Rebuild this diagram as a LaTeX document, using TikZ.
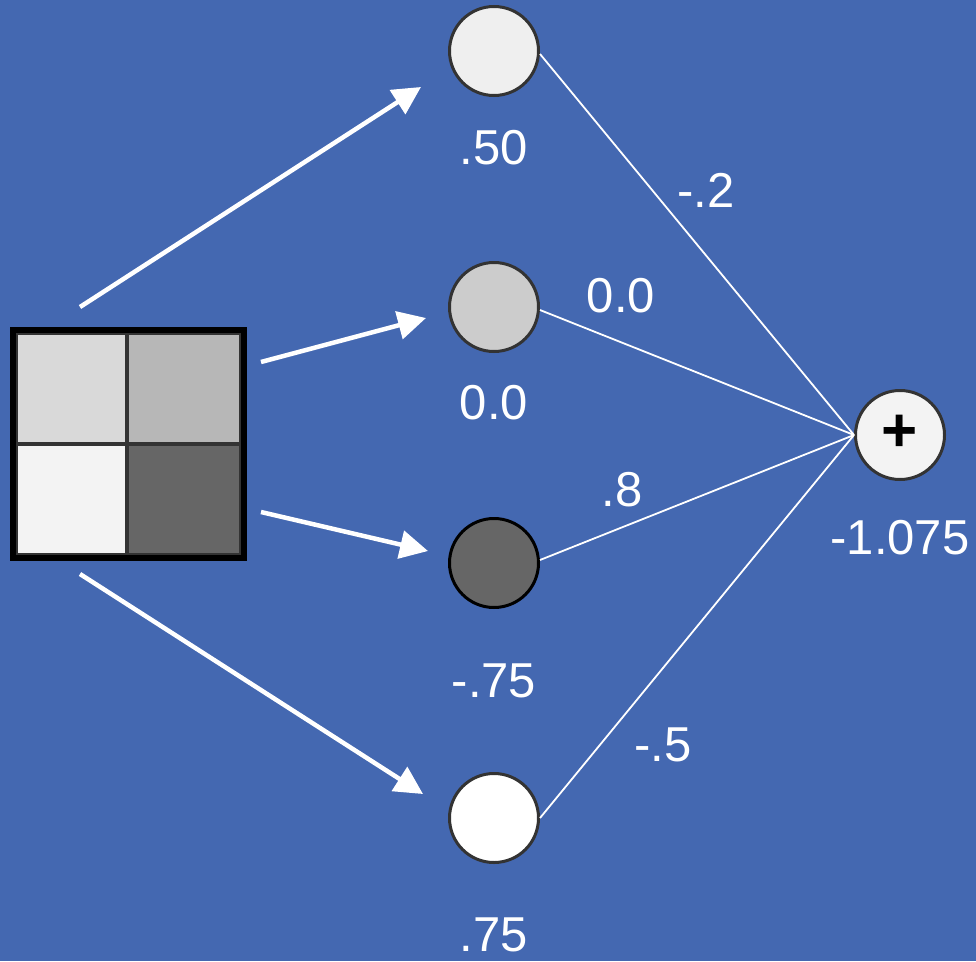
\documentclass[tikz,border=0pt]{standalone}
\usepackage{fontspec}
\setmainfont{Liberation Sans}
\usetikzlibrary{arrows.meta}
\definecolor{bg}{RGB}{68,104,177}
\definecolor{rim}{RGB}{51,51,51}
\begin{document}
\begin{tikzpicture}[x=1pt,y=-1pt,
  neuron/.style={circle,draw=rim,line width=3pt,minimum size=89pt,inner sep=0pt},
  lbl/.style={text=white,font=\fontsize{49}{58}\selectfont,inner sep=0pt},
  bigarrow/.style={draw=white,line width=4.5pt,-{Triangle[length=28pt,width=28pt]}},
  thin/.style={draw=white,line width=1.8pt},
  cell/.style={draw=rim,line width=1.5pt}
]
\fill[bg] (0,0) rectangle (976,961);
\useasboundingbox (0,0) rectangle (976,961);
% grid
\fill[black] (10,327) rectangle (247,561);
\filldraw[cell,fill={rgb,255:red,217;green,217;blue,217}] (17,334) rectangle (126,443);
\filldraw[cell,fill={rgb,255:red,183;green,183;blue,183}] (128,334) rectangle (240,443);
\filldraw[cell,fill={rgb,255:red,243;green,243;blue,243}] (17,445) rectangle (126,554);
\filldraw[cell,fill={rgb,255:red,102;green,102;blue,102}] (128,445) rectangle (240,554);
\node[inner sep=0pt,minimum size=0pt] (grid) at (128,444) {};
% neurons
\node[neuron,fill={rgb,255:red,239;green,239;blue,239}] (n1) at (494,51) {};
\node[neuron,fill={rgb,255:red,204;green,204;blue,204}] (n2) at (494,307) {};
\node[neuron,draw=black,fill={rgb,255:red,102;green,102;blue,102}] (n3) at (494,563) {};
\node[neuron,fill=white] (n4) at (494,818) {};
\node[neuron,fill={rgb,255:red,243;green,243;blue,243},font=\fontsize{62}{70}\selectfont\bfseries] (sum) at (900,435) {\raisebox{3pt}{+}};
% value labels
\node[lbl] (v1) at (494,148) {.50};
\node[lbl] (v2) at (494,403) {0.0};
\node[lbl] (v3) at (494,681) {-.75};
\node[lbl] (v4) at (494,935) {.75};
\node[lbl] (vs) at (900,538) {-1.075};
% weight labels
\node[lbl] (w1) at (706,190) {-.2};
\node[lbl] (w2) at (621,296) {0.0};
\node[lbl] (w3) at (622,490) {.8};
\node[lbl] (w4) at (663,745) {-.5};
% arrows
\coordinate (a1s) at (80,307);
\coordinate (a1e) at (421,87);
\coordinate (a2s) at (261,362);
\coordinate (a2e) at (426,318);
\coordinate (a3s) at (261,512);
\coordinate (a3e) at (428,551);
\coordinate (a4s) at (80,574);
\coordinate (a4e) at (423,794);
\draw[bigarrow] (a1s) -- (a1e);
\draw[bigarrow] (a2s) -- (a2e);
\draw[bigarrow] (a3s) -- (a3e);
\draw[bigarrow] (a4s) -- (a4e);
% thin connectors
\draw[thin] (n1.east) ++(0,3) coordinate (c1) (c1) -- (sum.west);
\draw[thin] (n2) ++(46,3) coordinate (c2) (c2) -- (sum.west);
\draw[thin] (n3) ++(46,-3) coordinate (c3) (c3) -- (sum.west);
\draw[thin] (n4.east) -- (sum.west);
\end{tikzpicture}
\end{document}
